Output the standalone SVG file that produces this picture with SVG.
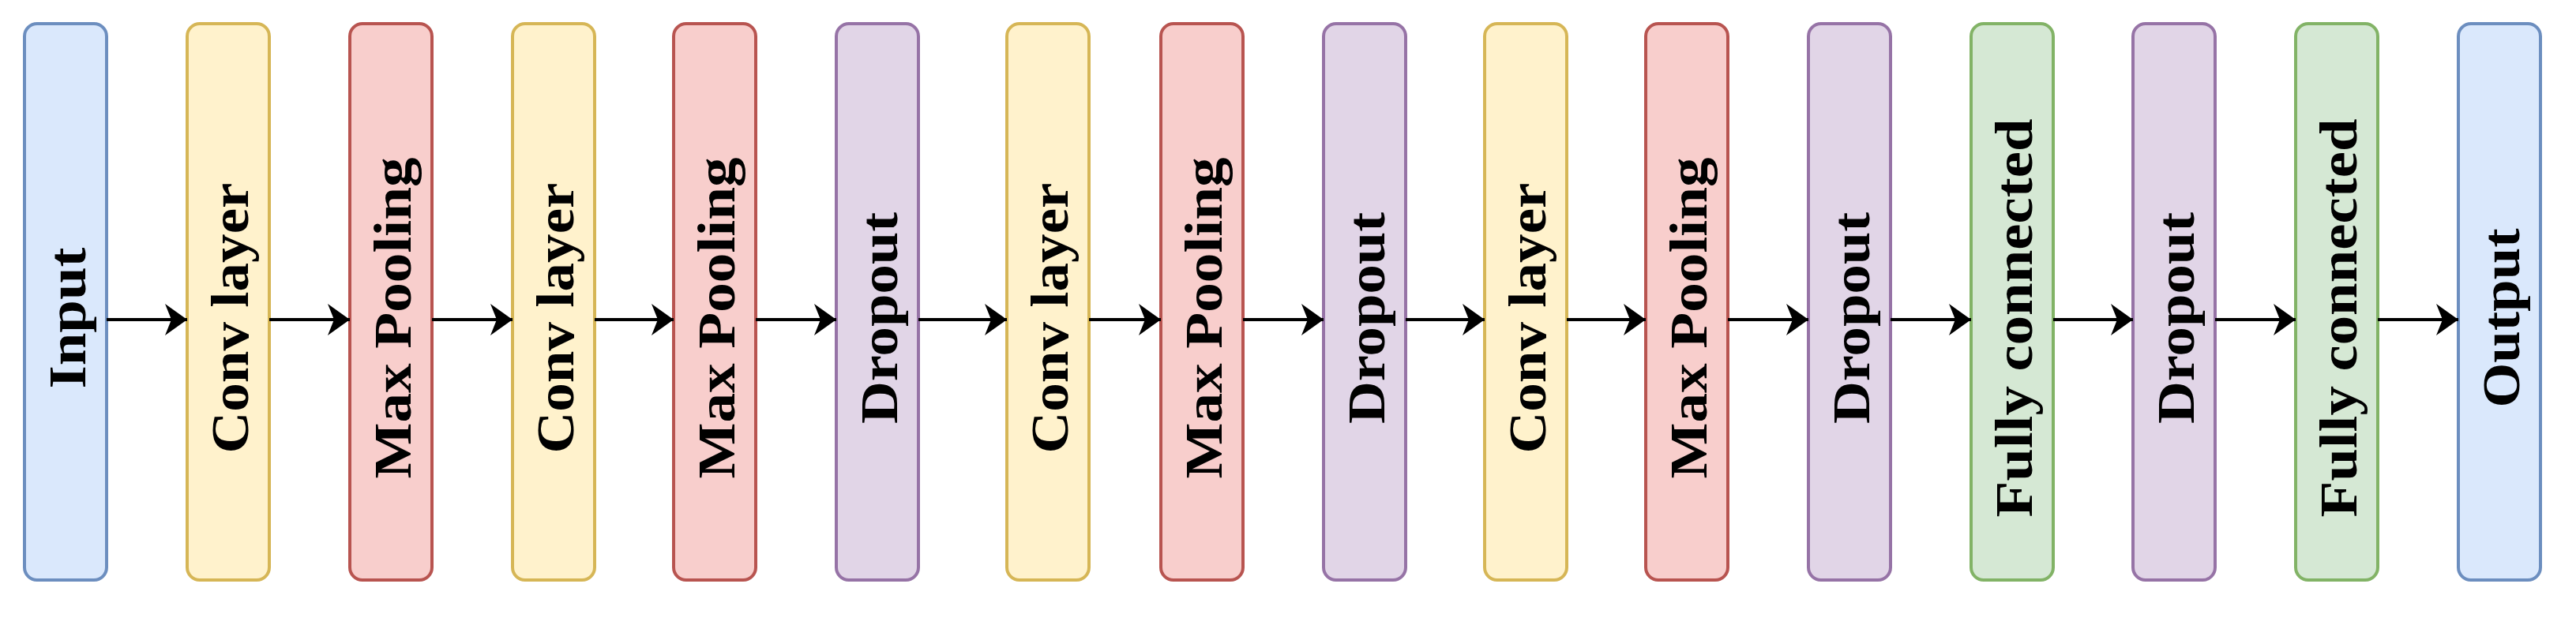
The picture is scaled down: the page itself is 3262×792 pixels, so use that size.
<svg xmlns="http://www.w3.org/2000/svg" width="3262" height="792" viewBox="0 0 3262 792">
<style>
.n{stroke-width:4}
.b{fill:#dae8fc;stroke:#6c8ebf}
.y{fill:#fff2cc;stroke:#d6b656}
.r{fill:#f8cecc;stroke:#b85450}
.p{fill:#e1d5e7;stroke:#9673a6}
.g{fill:#d5e8d4;stroke:#82b366}
text{font-family:"Liberation Serif","DejaVu Serif",serif;font-weight:bold;font-size:68px;text-anchor:middle;dominant-baseline:central}
.e{stroke:#000;stroke-width:4;fill:none;marker-end:url(#a)}
</style>
<defs><marker id="a" markerUnits="userSpaceOnUse" markerWidth="30" markerHeight="40" refX="28" refY="20" orient="auto"><path d="M0,0 L28,20 L0,40 L8,20 Z" fill="#000"/></marker></defs>
<g id="input"><rect class="n b" x="31" y="30" width="104" height="705" rx="16"/><text transform="translate(85,403) rotate(-90)" textLength="179" lengthAdjust="spacingAndGlyphs">Input</text></g>
<g id="conv1"><rect class="n y" x="237" y="30" width="104" height="705" rx="16"/><text transform="translate(291,403) rotate(-90)" textLength="343" lengthAdjust="spacingAndGlyphs">Conv layer</text></g>
<g id="pool1"><rect class="n r" x="443" y="30" width="104" height="705" rx="16"/><text transform="translate(497,403) rotate(-90)" textLength="407" lengthAdjust="spacingAndGlyphs">Max Pooling</text></g>
<g id="conv2"><rect class="n y" x="649" y="30" width="104" height="705" rx="16"/><text transform="translate(703,403) rotate(-90)" textLength="343" lengthAdjust="spacingAndGlyphs">Conv layer</text></g>
<g id="pool2"><rect class="n r" x="853" y="30" width="104" height="705" rx="16"/><text transform="translate(907,403) rotate(-90)" textLength="407" lengthAdjust="spacingAndGlyphs">Max Pooling</text></g>
<g id="drop1"><rect class="n p" x="1059" y="30" width="104" height="705" rx="16"/><text transform="translate(1113,403) rotate(-90)" textLength="268" lengthAdjust="spacingAndGlyphs">Dropout</text></g>
<g id="conv3"><rect class="n y" x="1275" y="30" width="104" height="705" rx="16"/><text transform="translate(1329,403) rotate(-90)" textLength="343" lengthAdjust="spacingAndGlyphs">Conv layer</text></g>
<g id="pool3"><rect class="n r" x="1470" y="30" width="104" height="705" rx="16"/><text transform="translate(1524,403) rotate(-90)" textLength="407" lengthAdjust="spacingAndGlyphs">Max Pooling</text></g>
<g id="drop2"><rect class="n p" x="1676" y="30" width="104" height="705" rx="16"/><text transform="translate(1730,403) rotate(-90)" textLength="268" lengthAdjust="spacingAndGlyphs">Dropout</text></g>
<g id="conv4"><rect class="n y" x="1880" y="30" width="104" height="705" rx="16"/><text transform="translate(1934,403) rotate(-90)" textLength="343" lengthAdjust="spacingAndGlyphs">Conv layer</text></g>
<g id="pool4"><rect class="n r" x="2084" y="30" width="104" height="705" rx="16"/><text transform="translate(2138,403) rotate(-90)" textLength="407" lengthAdjust="spacingAndGlyphs">Max Pooling</text></g>
<g id="drop3"><rect class="n p" x="2290" y="30" width="104" height="705" rx="16"/><text transform="translate(2344,403) rotate(-90)" textLength="268" lengthAdjust="spacingAndGlyphs">Dropout</text></g>
<g id="fc1"><rect class="n g" x="2496" y="30" width="104" height="705" rx="16"/><text transform="translate(2550,403) rotate(-90)" textLength="505" lengthAdjust="spacingAndGlyphs">Fully connected</text></g>
<g id="drop4"><rect class="n p" x="2701" y="30" width="104" height="705" rx="16"/><text transform="translate(2755,403) rotate(-90)" textLength="268" lengthAdjust="spacingAndGlyphs">Dropout</text></g>
<g id="fc2"><rect class="n g" x="2907" y="30" width="104" height="705" rx="16"/><text transform="translate(2961,403) rotate(-90)" textLength="505" lengthAdjust="spacingAndGlyphs">Fully connected</text></g>
<g id="output"><rect class="n b" x="3113" y="30" width="104" height="705" rx="16"/><text transform="translate(3167,403) rotate(-90)" textLength="227" lengthAdjust="spacingAndGlyphs">Output</text></g>
<g id="edges">
<path class="e" d="M135,405H237"/>
<path class="e" d="M341,405H443"/>
<path class="e" d="M547,405H649"/>
<path class="e" d="M753,405H853"/>
<path class="e" d="M957,405H1059"/>
<path class="e" d="M1163,405H1275"/>
<path class="e" d="M1379,405H1470"/>
<path class="e" d="M1574,405H1676"/>
<path class="e" d="M1780,405H1880"/>
<path class="e" d="M1984,405H2084"/>
<path class="e" d="M2188,405H2290"/>
<path class="e" d="M2394,405H2496"/>
<path class="e" d="M2600,405H2701"/>
<path class="e" d="M2805,405H2907"/>
<path class="e" d="M3011,405H3113"/>
</g>
</svg>
